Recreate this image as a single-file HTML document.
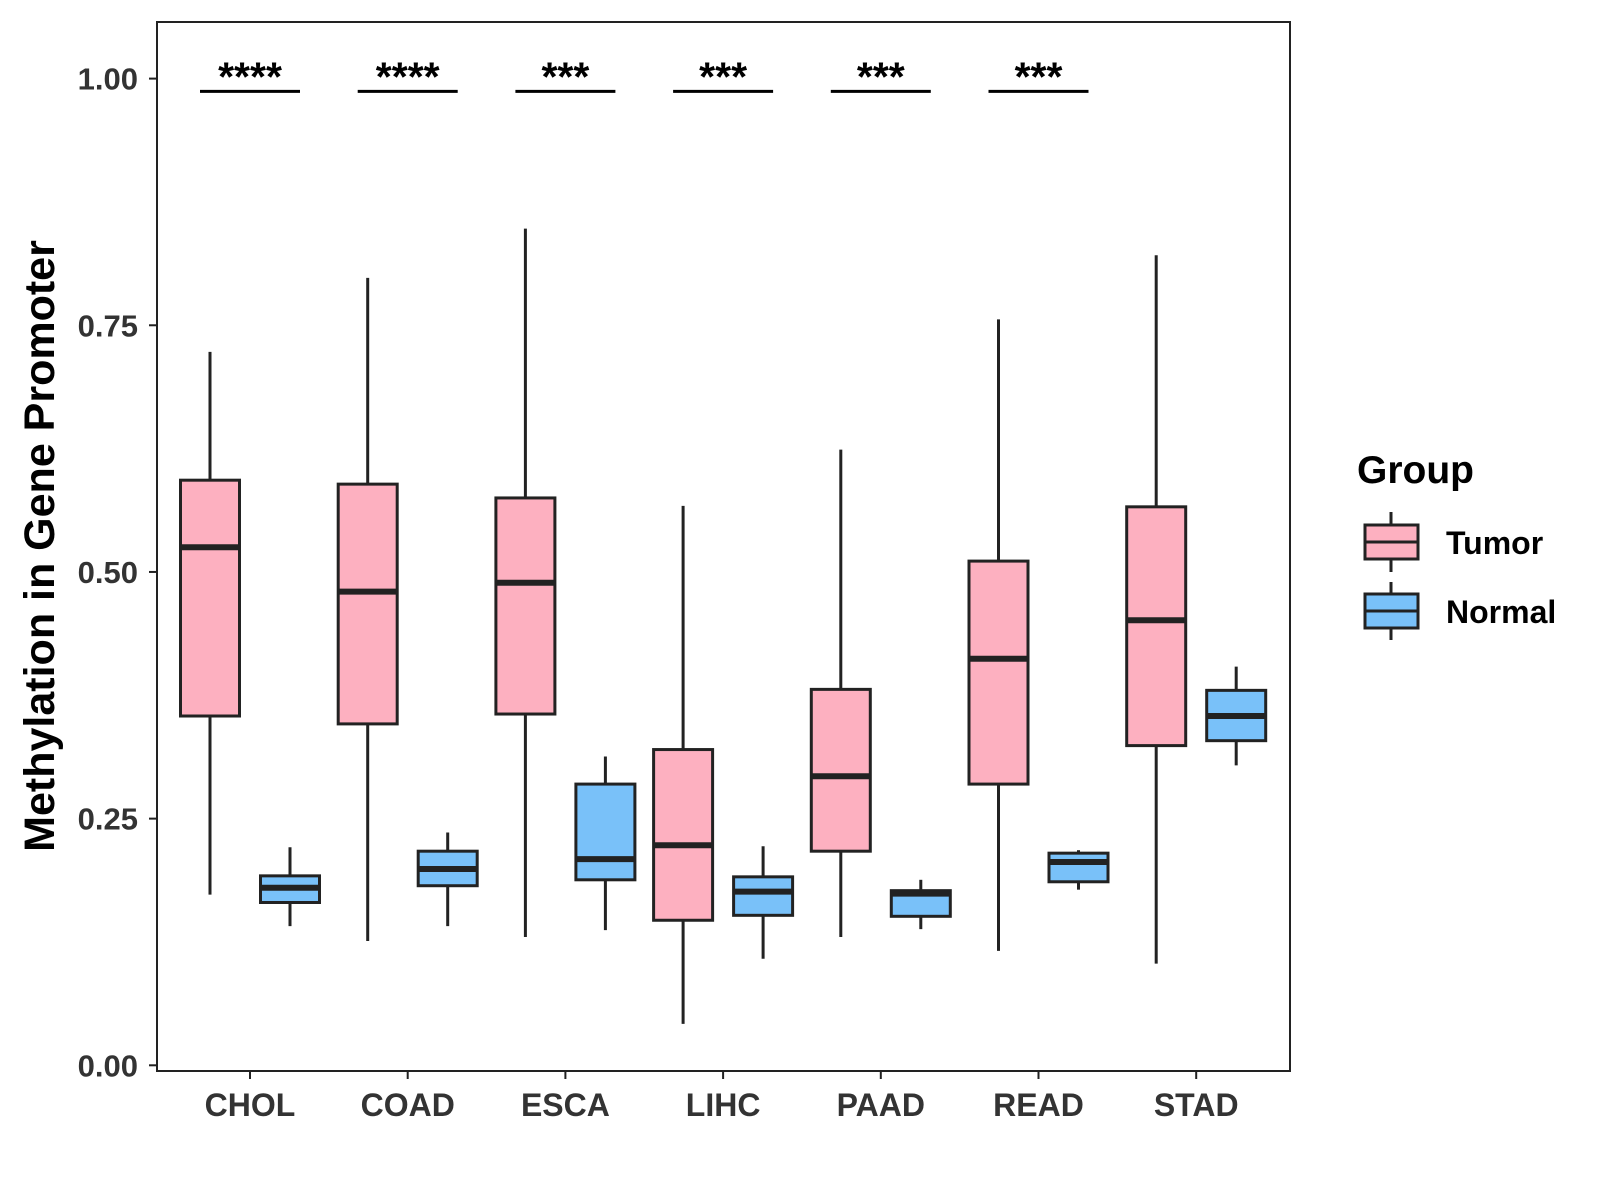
<!DOCTYPE html>
<html><head><meta charset="utf-8"><style>
body{margin:0;background:#fff;}
svg{display:block;font-family:"Liberation Sans",sans-serif;}
</style></head><body>
<svg id="chart" width="1600" height="1200" viewBox="0 0 1600 1200">
<rect x="157" y="22" width="1133" height="1049" fill="#fff" stroke="#222" stroke-width="2"/>
<g id="marks"></g>
<text transform="translate(54,546) rotate(-90)" text-anchor="middle" font-size="43" font-weight="bold" fill="#000">Methylation in Gene Promoter</text>
<g>
<text x="1357" y="483" font-size="39" font-weight="bold">Group</text>
<g>
<line x1="1391" y1="512" x2="1391" y2="572" stroke="#222" stroke-width="3"/>
<rect x="1365" y="525" width="53" height="34" fill="#FDB0C0" stroke="#222" stroke-width="3"/>
<line x1="1365" y1="542" x2="1418" y2="542" stroke="#222" stroke-width="3"/>
<text x="1446" y="554" font-size="32" font-weight="bold">Tumor</text>
</g>
<g>
<line x1="1391" y1="582" x2="1391" y2="640" stroke="#222" stroke-width="3"/>
<rect x="1365" y="594" width="53" height="34" fill="#79C1F9" stroke="#222" stroke-width="3"/>
<line x1="1365" y1="611" x2="1418" y2="611" stroke="#222" stroke-width="3"/>
<text x="1446" y="623" font-size="32" font-weight="bold">Normal</text>
</g>
</g>
</svg>
<script>
const categories=["CHOL","COAD","ESCA","LIHC","PAAD","READ","STAD"];
const tumorStats=[[0.173,0.354,0.525,0.593,0.723],[0.126,0.346,0.480,0.589,0.798],[0.130,0.356,0.489,0.575,0.848],[0.042,0.147,0.223,0.320,0.567],[0.130,0.217,0.293,0.381,0.624],[0.116,0.285,0.412,0.511,0.756],[0.103,0.324,0.451,0.566,0.821]];
const normalStats=[[0.141,0.165,0.180,0.192,0.221],[0.141,0.182,0.199,0.217,0.236],[0.137,0.188,0.209,0.285,0.313],[0.108,0.152,0.176,0.191,0.222],[0.138,0.151,0.174,0.177,0.188],[0.178,0.186,0.206,0.215,0.218],[0.304,0.329,0.354,0.380,0.404]];
const signif=["****","****","***","***","***","***",""];
const yTicks=[0,0.25,0.5,0.75,1.0];
const yTickLabels=["0.00","0.25","0.50","0.75","1.00"];
const sigLevel=0.987;

const NS="http://www.w3.org/2000/svg";
const g=document.getElementById('marks');
const yS=v=>1065.3-v*986.7;
const xS=i=>250+i*157.7;
function el(t,a,p){const e=document.createElementNS(NS,t);for(const k in a)e.setAttribute(k,a[k]);(p||g).appendChild(e);return e;}
yTicks.forEach((v,i)=>{
  const t=el('line',{x1:149,x2:157,y1:yS(v),y2:yS(v),stroke:'#222','stroke-width':2});
  
  
  const l=el('text',{x:138,y:yS(v)+11,'text-anchor':'end','font-size':31,'font-weight':'bold',fill:'#333'});
  l.textContent=yTickLabels[i];
  
  
});
categories.forEach((c,i)=>{
  const x=xS(i);
  const t=el('line',{x1:x,x2:x,y1:1071,y2:1079,stroke:'#222','stroke-width':2});
  
  
  const l=el('text',{x:x,y:1116,'text-anchor':'middle','font-size':32,'font-weight':'bold',fill:'#333'});
  l.textContent=c;
  
  
  [[tumorStats[i],-40,'#FDB0C0','tumor'],[normalStats[i],40,'#79C1F9','normal']].forEach(([s,off,col,nm])=>{
    const cx=x+off,w=59;
    const b=el('g',{});
    
    
    el('line',{x1:cx,x2:cx,y1:yS(s[0]),y2:yS(s[4]),stroke:'#222','stroke-width':3},b);
    el('rect',{x:cx-w/2,y:yS(s[3]),width:w,height:yS(s[1])-yS(s[3]),fill:col,stroke:'#222','stroke-width':3},b);
    el('line',{x1:cx-w/2,x2:cx+w/2,y1:yS(s[2]),y2:yS(s[2]),stroke:'#222','stroke-width':6},b);
  });
  if(signif[i]){
    const s=el('line',{x1:x-50,x2:x+50,y1:yS(sigLevel),y2:yS(sigLevel),stroke:'#000','stroke-width':3});
    
    
    const st=el('text',{x:x,y:yS(sigLevel)-1,'text-anchor':'middle','font-size':41,'font-weight':'bold',fill:'#000'});
    st.textContent=signif[i];
    
    
  }
});
</script>
</body></html>
